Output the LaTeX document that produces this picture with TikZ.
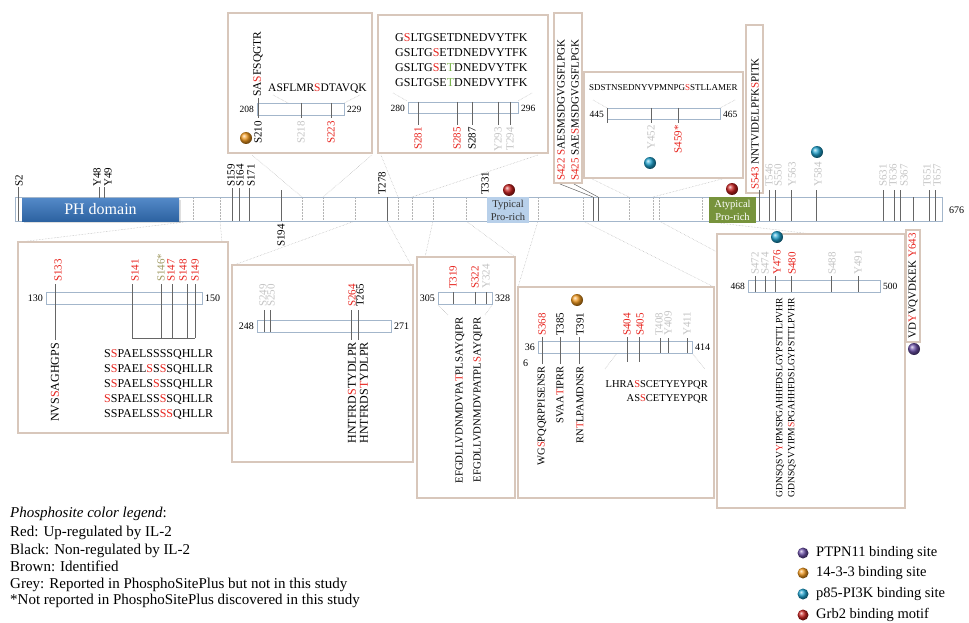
\documentclass[tikz,border=0pt]{standalone}
\usepackage{fontspec}
\setmainfont{Liberation Serif}
\usetikzlibrary{shadows}
\definecolor{phred}{HTML}{E8251F}
\definecolor{phgrey}{HTML}{C4C4C4}
\definecolor{phbrown}{HTML}{A09A62}
\definecolor{phgreen}{HTML}{78B24A}
\definecolor{barline}{HTML}{A3B6CB}
\definecolor{boxline}{HTML}{D8C7BB}
\definecolor{guide}{HTML}{B4B4B4}
\definecolor{phblue}{HTML}{3574BE}
\definecolor{typblue}{HTML}{B8D0EA}
\definecolor{atyp}{HTML}{77933C}
\definecolor{ballpurple}{HTML}{6B4FA8}
\definecolor{ballorange}{HTML}{F39A1E}
\definecolor{ballblue}{HTML}{1FA3CF}
\definecolor{ballred}{HTML}{C8201E}
\newcommand{\fsz}[1]{\fontsize{#1}{#1}\selectfont}
\newcommand{\rdc}[1]{\textcolor{phred}{#1}}
\newcommand{\gnc}[1]{\textcolor{phgreen}{#1}}
\tikzset{
  site/.style={font=\fsz{11}, inner sep=0pt, rotate=90},
  siteup/.style={site, anchor=west},
  sitedn/.style={site, anchor=east},
  seq/.style={font=\fsz{12}, inner sep=0pt},
  num/.style={font=\fsz{9.5}, inner sep=0pt},
  zoombox/.style={draw=boxline, line width=1.6pt, fill=white,
    drop shadow={opacity=0.18, shadow xshift=1.2pt, shadow yshift=-1.2pt}},
  minibar/.style={draw=barline, fill=white, line width=0.7pt},
  tick/.style={draw=black!60, line width=0.5pt},
  guideline/.style={draw=guide, densely dotted, line width=0.5pt},
  ball/.style={circle, minimum size=12pt, inner sep=0pt, shading=ball, ball color=#1},
  legend/.style={font=\fsz{15}, anchor=base west, inner sep=0pt},
  keytext/.style={font=\fsz{14.5}, anchor=west, inner sep=0pt}
}
\begin{document}
\begin{tikzpicture}[x=1pt, y=-1pt]
\useasboundingbox (0,0) rectangle (969,623);

% guides from the protein bar to the zoom boxes
\draw[guideline] (193,221) -- (20,242);
\draw[guideline] (220,221) -- (222,242);
\draw[guideline] (302,197) -- (252,155);
\draw[guideline] (323,197) -- (372,155);
\draw[guideline] (355,221) -- (234,265);
\draw[guideline] (387,221) -- (411,265);
\draw[guideline] (398,197) -- (381,155);
\draw[guideline] (412,197) -- (538,155);
\draw[guideline] (433,221) -- (425,257);
\draw[guideline] (466,221) -- (515,257);
\draw[guideline] (538,221) -- (518,287);
\draw[guideline] (583,221) -- (714,287);
\draw[guideline] (629,197) -- (590,178);
\draw[guideline] (653,197) -- (741,174);
\draw[guideline] (659,221) -- (717,252);
\draw[guideline] (702,221) -- (905,245);

% zoom box 208-229
\draw[zoombox] (228,13) rectangle (372,153);
\node[seq, font=\fsz{11.5}, rotate=90, anchor=west] (pA1) at (258,97) {SA\rdc{S}FSQGTR};
\node[seq, font=\fsz{11.5}, anchor=base west] (pA2) at (268,92) {ASFLMR\rdc{S}DTAVQK};
\draw[guideline] (273,95) -- (288,103);
\draw[guideline] (360,95) -- (344,103);
\draw[minibar] (257,103) rectangle (344,115);
\node[num, anchor=east] (nA1) at (254,109) {208};
\node[num, anchor=west] (nA2) at (347,109) {229};
\draw[tick] (258,98) -- (258,118);
\foreach \x in {301,331} \draw[tick] (\x,103) -- (\x,118);
\node[sitedn] (sA1) at (258,121) {S210};
\node[sitedn, text=phgrey] (sA2) at (301,121) {S218};
\node[sitedn, text=phred] (sA3) at (331,121) {S223};
\node[ball=ballorange] (bA) at (246,138) {};

% zoom box 280-296
\draw[zoombox] (378,15) rectangle (548,153);
\node[seq, anchor=base west] (pB1) at (395,42) {G\rdc{S}LTGSETDNEDVYTFK};
\node[seq, anchor=base west] (pB2) at (395,57) {GSLTG\rdc{S}ETDNEDVYTFK};
\node[seq, anchor=base west] (pB3) at (395,72) {GSLTG\rdc{S}E\gnc{T}DNEDVYTFK};
\node[seq, anchor=base west] (pB4) at (395,87) {GSLTGSE\gnc{T}DNEDVYTFK};
\draw[guideline] (393,93) -- (407,101);
\draw[guideline] (532,93) -- (518,101);
\draw[minibar] (408,102) rectangle (518,113);
\node[num, anchor=east] (nB1) at (405,108) {280};
\node[num, anchor=west] (nB2) at (521,108) {296};
\foreach \x in {418,457,472,498,510} \draw[tick] (\x,102) -- (\x,125);
\node[sitedn, text=phred] (sB1) at (418,127) {S281};
\node[sitedn, text=phred] (sB2) at (457,127) {S285};
\node[sitedn] (sB3) at (472,127) {S287};
\node[sitedn, text=phgrey] (sB4) at (498,127) {Y293};
\node[sitedn, text=phgrey] (sB5) at (510,127) {T294};

% box S422/S425
\draw[zoombox] (554,13) rectangle (582,183);
\node[site, anchor=west] (pC1) at (561,181) {\rdc{S422} \rdc{S}AESMSDGVGSFLPGK};
\node[site, anchor=west] (pC2) at (575,181) {\rdc{S425} SAE\rdc{S}MSDGVGSFLPGK};
\draw[tick] (560,184) -- (593,197);
\draw[tick] (574,184) -- (598,197);

% zoom box 445-465
\draw[zoombox] (584,72) rectangle (743,178);
\node[seq, font=\fsz{9}, anchor=base west] (pD) at (589,91) {SDSTNSEDNYVPMNPG\rdc{S}STLLAMER};
\draw[guideline] (593,100) -- (607,108);
\draw[guideline] (735,100) -- (720,108);
\draw[minibar] (607,108) rectangle (720,119);
\node[num, anchor=east] (nD1) at (604,114) {445};
\node[num, anchor=west] (nD2) at (723,114) {465};
\foreach \x in {607,651,678} \draw[tick] (\x,108) -- (\x,123);
\node[sitedn, text=phgrey] (sD1) at (651,125) {Y452};
\node[sitedn, text=phred] (sD2) at (678,125) {S459*};
\node[ball=ballblue] (bD) at (650,163) {};

% box S543
\draw[zoombox] (746,25) rectangle (763,193);
\node[site, anchor=west] (pE) at (755,190) {\rdc{S543} NNTVIDELPFK\rdc{S}PITK};

% zoom box 130-150
\draw[zoombox] (18,242) rectangle (228,433);
\draw[minibar] (46,292) rectangle (202,304);
\node[num, font=\fsz{10}, anchor=east] (nF1) at (43,298) {130};
\node[num, font=\fsz{10}, anchor=west] (nF2) at (205,298) {150};
\node[siteup, text=phred] (sF1) at (58,282) {S133};
\node[siteup, text=phred] (sF2) at (135,282) {S141};
\node[siteup, text=phbrown] (sF3) at (161,282) {S146*};
\node[siteup, text=phred] (sF4) at (171,282) {S147};
\node[siteup, text=phred] (sF5) at (183,282) {S148};
\node[siteup, text=phred] (sF6) at (195,282) {S149};
\draw[tick] (55,284) -- (55,340);
\foreach \x in {132,161,172,187,195} \draw[tick] (\x,284) -- (\x,338);
\draw[tick] (132,338) -- (195,338);
\node[seq, rotate=90, anchor=east] (pF0) at (55,343) {NVS\rdc{S}AGHGPS};
\node[seq, anchor=base west] (pF1) at (104,357) {S\rdc{S}PAELSSSSQHLLR};
\node[seq, anchor=base west] (pF2) at (104,372) {S\rdc{S}PAEL\rdc{S}S\rdc{S}SQHLLR};
\node[seq, anchor=base west] (pF3) at (104,387) {S\rdc{S}PAELS\rdc{S}SSQHLLR};
\node[seq, anchor=base west] (pF4) at (104,402) {\rdc{S}SPAELSS\rdc{S}SQHLLR};
\node[seq, anchor=base west] (pF5) at (104,417) {SSPAELSS\rdc{SS}QHLLR};

% zoom box 248-271
\draw[zoombox] (232,265) rectangle (413,462);
\draw[minibar] (257,320) rectangle (391,332);
\node[num, font=\fsz{10}, anchor=east] (nG1) at (254,326) {248};
\node[num, font=\fsz{10}, anchor=west] (nG2) at (394,326) {271};
\node[siteup, text=phgrey] (sG1) at (263,307) {S249};
\node[siteup, text=phgrey] (sG2) at (271,307) {S250};
\node[siteup, text=phred] (sG3) at (352,307) {S264};
\node[siteup] (sG4) at (360,307) {T265};
\foreach \x in {264,270} \draw[tick] (\x,310) -- (\x,332);
\foreach \x in {351,358} \draw[tick] (\x,310) -- (\x,340);
\node[seq, rotate=90, anchor=east] (pG1) at (352,342) {HNTFRD\rdc{S}TYDLPR};
\node[seq, rotate=90, anchor=east] (pG2) at (364,342) {HNTFRDS\rdc{T}YDLPR};

% zoom box 305-328
\draw[zoombox] (417,257) rectangle (515,498);
\draw[guideline] (438,305) -- (448,315);
\draw[guideline] (492,305) -- (485,315);
\draw[minibar] (438,292) rectangle (492,304);
\node[num, font=\fsz{10}, anchor=east] (nH1) at (435,298) {305};
\node[num, font=\fsz{10}, anchor=west] (nH2) at (495,298) {328};
\node[siteup, text=phred] (sH1) at (453,289) {T319};
\node[siteup, text=phred] (sH2) at (475,289) {S322};
\node[siteup, text=phgrey] (sH3) at (486,289) {Y324};
\foreach \x in {453,475,486} \draw[tick] (\x,292) -- (\x,304);
\node[seq, font=\fsz{10.8}, rotate=90, anchor=east] (pH1) at (460,317) {EFGDLLVDNMDVPA\rdc{T}PLSAYQIPR};
\node[seq, font=\fsz{10.8}, rotate=90, anchor=east] (pH2) at (478,317) {EFGDLLVDNMDVPATPL\rdc{S}AYQIPR};

% zoom box 366-414
\draw[zoombox] (518,287) rectangle (714,498);
\draw[guideline] (617,353) -- (605,369);
\draw[guideline] (692,353) -- (705,369);
\draw[minibar] (538,341) rectangle (692,353);
\node[num, font=\fsz{10}, anchor=east] (nI1) at (535,347) {36};
\node[num, font=\fsz{10}, anchor=base west] (nI2) at (523,366) {6};
\node[num, font=\fsz{10}, anchor=west] (nI3) at (695,347) {414};
\node[siteup, text=phred] (sI1) at (542,336) {S368};
\node[siteup] (sI2) at (560,336) {T385};
\node[siteup] (sI3) at (580,336) {T391};
\node[siteup, text=phred] (sI4) at (627,336) {S404};
\node[siteup, text=phred] (sI5) at (640,336) {S405};
\node[siteup, text=phgrey] (sI6) at (659,336) {T408};
\node[siteup, text=phgrey] (sI7) at (668,336) {Y409};
\node[siteup, text=phgrey] (sI8) at (687,336) {Y411};
\foreach \x in {542,560,579} \draw[tick] (\x,337) -- (\x,364);
\foreach \x in {627,639} \draw[tick] (\x,337) -- (\x,362);
\foreach \x in {660,668,687} \draw[tick] (\x,338) -- (\x,353);
\node[seq, font=\fsz{10.5}, rotate=90, anchor=east] (pI1) at (542,366) {WG\rdc{S}PQQRPPISENSR};
\node[seq, font=\fsz{10.5}, rotate=90, anchor=east] (pI2) at (560,366) {SVAA\rdc{T}IPRR};
\node[seq, font=\fsz{10.5}, rotate=90, anchor=east] (pI3) at (580,366) {RN\rdc{T}LPAMDNSR};
\node[seq, font=\fsz{10.5}, anchor=base east] (pI4) at (708,387) {LHRA\rdc{S}SCETYEYPQR};
\node[seq, font=\fsz{10.5}, anchor=base east] (pI5) at (708,401) {AS\rdc{S}CETYEYPQR};
\node[ball=ballorange] (bI) at (577,300) {};

% zoom box 468-500
\draw[zoombox] (717,234) rectangle (905,508);
\draw[minibar] (748,280) rectangle (880,292);
\node[num, anchor=east] (nJ1) at (745,286) {468};
\node[num, anchor=west] (nJ2) at (883,286) {500};
\node[siteup, text=phgrey] (sJ1) at (755,275) {S472};
\node[siteup, text=phgrey] (sJ2) at (765,275) {S474};
\node[siteup, text=phred] (sJ3) at (777,275) {Y476};
\node[siteup, text=phred] (sJ4) at (792,275) {S480};
\node[siteup, text=phgrey] (sJ5) at (832,275) {S488};
\node[siteup, text=phgrey] (sJ6) at (858,275) {Y491};
\foreach \x in {755,765,775,791,831,858} \draw[tick] (\x,276) -- (\x,292);
\node[seq, font=\fsz{9.6}, rotate=90, anchor=east] (pJ1) at (780,298) {GDNSQSV\rdc{Y}IPMSPGAHHFDSLGYPSTTLPVHR};
\node[seq, font=\fsz{9.6}, rotate=90, anchor=east] (pJ2) at (792,298) {GDNSQSVYIPM\rdc{S}PGAHHFDSLGYPSTTLPVHR};
\node[ball=ballblue] (bJ) at (777,237) {};

% box Y643
\draw[zoombox] (906,230) rectangle (920,342);
\node[site, anchor=west] (pK) at (913,339) {VD\rdc{Y}VQVDKEK \rdc{Y643}};
\node[ball=ballpurple] (bK) at (914,349) {};

% protein bar
\draw[draw=barline, fill=white, line width=0.8pt] (15,197) rectangle (942,221);
\foreach \x in {193,220,302,323,355,398,412,433,466,538,583,629,653,659,702}
  \draw[guideline] (\x,198) -- (\x,220);
\draw[tick] (18,187) -- (18,221);
\foreach \x in {232,239,249} \draw[tick] (\x,188) -- (\x,221);
\draw[tick] (281,190) -- (281,221);
\foreach \x in {387,487,593,598,913} \draw[tick] (\x,197) -- (\x,221);
\foreach \x in {759,769,775,791,816,883,894,900,929,935} \draw[tick] (\x,190) -- (\x,221);
\node[top color=phblue!85!white, bottom color=phblue!85!black, text=white, font=\fsz{16}, minimum width=157pt, minimum height=23pt, inner sep=0pt,
  drop shadow={opacity=0.25, shadow xshift=1.5pt, shadow yshift=-1.5pt}] (ph) at (100.5,209.5) {PH domain};
\foreach \x in {99,104} \draw[tick] (\x,187) -- (\x,198);
\node[fill=typblue, text=black!80, font=\fsz{10.5}, minimum width=42pt, minimum height=26pt, inner sep=0pt, align=center] (typ) at (508,210) {Typical\\[2.5pt]Pro-rich};
\node[fill=atyp, text=white, font=\fsz{10.5}, minimum width=47pt, minimum height=26pt, inner sep=0pt, align=center] (atyp) at (732.5,210) {Atypical\\[2.5pt]Pro-rich};
\foreach \x/\s in {19/S2, 97/Y48, 108/Y49, 231/S159, 240/S164, 251/S171}
  \node[siteup] (m\s) at (\x,187) {\s};
\foreach \x/\s in {382/T278, 485/T331}
  \node[siteup] (m\s) at (\x,195) {\s};
\node[sitedn] (mS194) at (281,224) {S194};
\foreach \x/\s in {769/T546, 778/S550, 792/Y563, 818/Y584, 883/S631, 893/T636, 904/S367, 927/T651, 937/T657}
  \node[siteup, text=phgrey] (m\s) at (\x,187) {\s};
\node[num, font=\fsz{10}, anchor=west] (mend) at (949,210) {676};
\node[ball=ballred] (bT) at (509,190) {};
\node[ball=ballred] (bA2) at (732,189) {};
\node[ball=ballblue] (bY) at (817,152) {};

% legends
\node[legend] (lg0) at (10,517) {\textit{Phosphosite color legend}:};
\node[legend] (lg1) at (10,536) {Red: Up-regulated by IL-2};
\node[legend] (lg2) at (10,554) {Black: Non-regulated by IL-2};
\node[legend] (lg3) at (10,571) {Brown: Identified};
\node[legend] (lg4) at (10,588) {Grey: Reported in PhosphoSitePlus but not in this study};
\node[legend] (lg5) at (10,604) {*Not reported in PhosphoSitePlus discovered in this study};
\foreach \y/\c/\t in {553/ballpurple/PTPN11 binding site, 573/ballorange/14-3-3 binding site, 594/ballblue/p85-PI3K binding site, 615/ballred/Grb2 binding motif} {
  \node[ball=\c, minimum size=11pt] (k\c) at (803,\y) {};
  \node[keytext] (t\c) at (816,\y) {\t};
}
\end{tikzpicture}
\end{document}
